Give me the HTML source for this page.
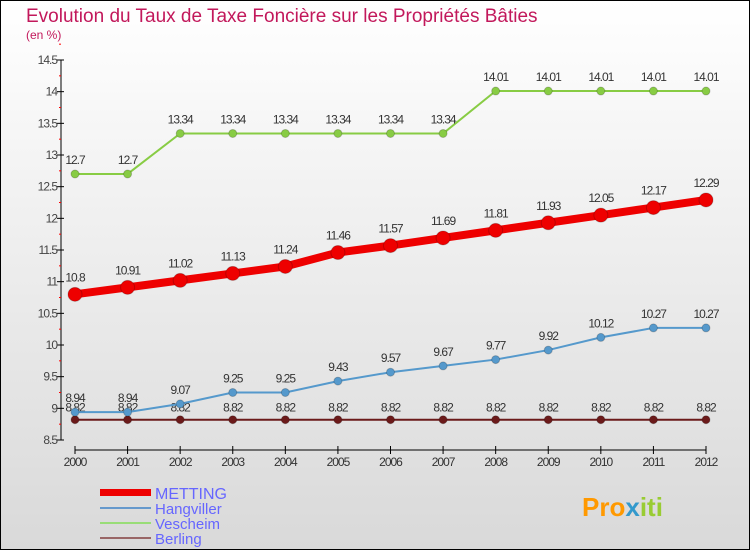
<!DOCTYPE html>
<html><head><meta charset="utf-8"><style>
body{margin:0;width:750px;height:550px;overflow:hidden;font-family:"Liberation Sans",sans-serif}
#c{position:absolute;left:0;top:0;width:748px;height:548px;border:1px solid #000;background:linear-gradient(#fff,#d9d9d9)}
</style></head><body>
<div id="c"></div>
<svg id="s" width="750" height="550" style="position:absolute;left:0;top:0" font-family="Liberation Sans, sans-serif">
<text x="26" y="22" font-size="19" fill="#c2185b">Evolution du Taux de Taxe Foncière sur les Propriétés Bâties</text>
<text x="26" y="39" font-size="12" fill="#c2185b">(en %)</text>
<g id="axes"></g><g id="series"></g>
<g>
<rect x="100" y="489" width="51" height="7" fill="#e00"/>
<text x="155" y="499" font-size="16" fill="#66f">METTING</text>
<line x1="100" y1="508" x2="151" y2="508" stroke="#69c" stroke-width="2"/>
<text x="155" y="514" font-size="15" fill="#66f">Hangviller</text>
<line x1="100" y1="523" x2="151" y2="523" stroke="#9d7" stroke-width="2"/>
<text x="155" y="529" font-size="15" fill="#66f">Vescheim</text>
<line x1="100" y1="538" x2="151" y2="538" stroke="#966" stroke-width="2"/>
<text x="155" y="544" font-size="15" fill="#66f">Berling</text>
</g>
<text x="582" y="516" font-size="26" font-weight="bold" fill="#f90">Pro<tspan fill="#39c">x</tspan><tspan fill="#9c3">iti</tspan></text>
</svg>
<script>
const years=[2000,2001,2002,2003,2004,2005,2006,2007,2008,2009,2010,2011,2012];
const metting=[10.8,10.91,11.02,11.13,11.24,11.46,11.57,11.69,11.81,11.93,12.05,12.17,12.29];
const hangviller=[8.94,8.94,9.07,9.25,9.25,9.43,9.57,9.67,9.77,9.92,10.12,10.27,10.27];
const vescheim=[12.7,12.7,13.34,13.34,13.34,13.34,13.34,13.34,14.01,14.01,14.01,14.01,14.01];
const berling=[8.82,8.82,8.82,8.82,8.82,8.82,8.82,8.82,8.82,8.82,8.82,8.82,8.82];
const yTicks=[8.5,9,9.5,10,10.5,11,11.5,12,12.5,13,13.5,14,14.5];
const NS="http://www.w3.org/2000/svg";
const xS=i=>75+i*(706-75)/(years.length-1);
const yS=v=>440-(v-8.5)*(380/6);
function mk(t,a,p){const e=document.createElementNS(NS,t);for(const k in a)e.setAttribute(k,a[k]);p.appendChild(e);return e;}
const ax=document.getElementById('axes'),sr=document.getElementById('series');
let l=mk('line',{x1:61,y1:60,x2:61,y2:440,stroke:'#000'},ax);


yTicks.forEach(v=>{mk('line',{x1:57,x2:64,y1:yS(v),y2:yS(v),stroke:'#000'},ax);
mk('line',{x1:59,x2:61,y1:yS(v+0.25),y2:yS(v+0.25),stroke:'#f00'},ax);
const t=mk('text',{x:57,y:yS(v)+4,'font-size':12,'text-anchor':'end',fill:'#444','letter-spacing':'-1'},ax);t.textContent=String(v);

});
l=mk('line',{x1:75,y1:450,x2:706,y2:450,stroke:'#000'},ax);


years.forEach((y,i)=>{mk('line',{x1:xS(i),x2:xS(i),y1:446,y2:454,stroke:'#000'},ax);
const t=mk('text',{x:xS(i),y:466,'font-size':12,'text-anchor':'middle',fill:'#333','letter-spacing':'-1'},ax);t.textContent=y;

});
function series(d,col,w,r,name,lblOff){const g=mk('g',{},sr);


mk('polyline',{points:d.map((v,i)=>xS(i)+','+yS(v)).join(' '),fill:'none',stroke:col,'stroke-width':w},g);
d.forEach((v,i)=>{const c=mk('circle',{cx:xS(i),cy:yS(v),r:r,fill:col,stroke:'#0003'},g);


const t=mk('text',{x:xS(i),y:yS(v)+lblOff,'font-size':12,'text-anchor':'middle',fill:'#333','letter-spacing':'-1'},g);t.textContent=String(v);

});}
series(berling,'#6b1a1a',2,4,'berling',-8);
series(hangviller,'#5599cc',2,4,'hangviller',-10);
series(vescheim,'#88cc44',2,4,'vescheim',-10);
series(metting,'#e00',8,7,'metting',-13);
</script>
</body></html>
